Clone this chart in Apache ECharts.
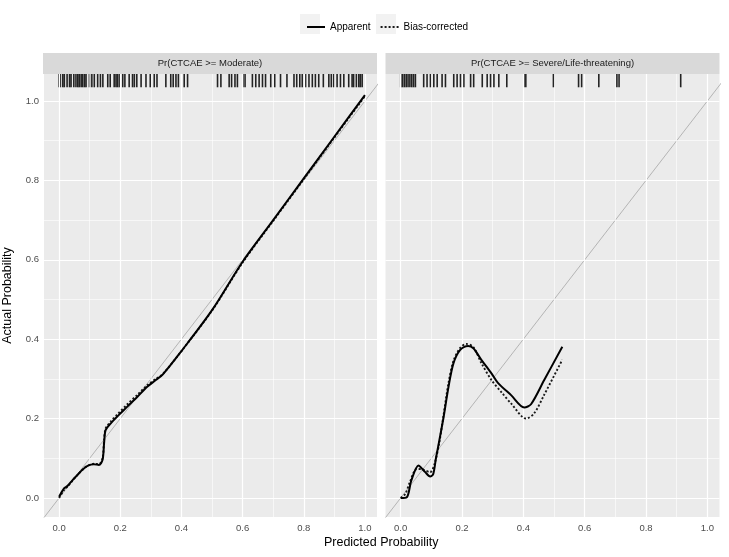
<!DOCTYPE html>
<html><head><meta charset="utf-8">
<script src="https://cdn.jsdelivr.net/npm/echarts@6/dist/echarts.min.js"></script>
<style>html,body{margin:0;padding:0;background:#fff}#c{width:729px;height:557px}</style>
</head><body><div id="c"></div>
<script>
// ---------- data ----------
const panelTitles = ['Pr(CTCAE >= Moderate)', 'Pr(CTCAE >= Severe/Life-threatening)'];
const seriesNames = ['Apparent', 'Bias-corrected'];
const majorTicks = [0, 0.2, 0.4, 0.6, 0.8, 1.0];
const minorTicks = [0.1, 0.3, 0.5, 0.7, 0.9];

// Panel 1: Pr(CTCAE >= Moderate)
const modX = [0, 0.016, 0.027, 0.044, 0.06, 0.076, 0.093, 0.114, 0.13, 0.142, 0.147, 0.152, 0.169, 0.19, 0.223, 0.256, 0.288, 0.316, 0.34, 0.4, 0.5, 0.6, 0.7, 0.8, 0.9, 1.0];
const modApparent = [0.003, 0.024, 0.03, 0.045, 0.058, 0.071, 0.081, 0.085, 0.083, 0.096, 0.138, 0.171, 0.188, 0.205, 0.23, 0.255, 0.28, 0.297, 0.312, 0.37, 0.473, 0.595, 0.70, 0.805, 0.91, 1.015];
const modBias = [0.0, 0.02, 0.028, 0.044, 0.058, 0.071, 0.081, 0.086, 0.085, 0.1, 0.145, 0.175, 0.193, 0.21, 0.236, 0.26, 0.284, 0.3, 0.313, 0.37, 0.472, 0.593, 0.698, 0.803, 0.908, 1.012];
const modRug = [0.0, 0.004, 0.012, 0.017, 0.026, 0.034, 0.039, 0.048, 0.055, 0.061, 0.066, 0.072, 0.077, 0.083, 0.088, 0.099, 0.107, 0.115, 0.126, 0.135, 0.143, 0.159, 0.167, 0.18, 0.186, 0.191, 0.197, 0.208, 0.215, 0.229, 0.24, 0.246, 0.254, 0.268, 0.284, 0.298, 0.311, 0.32, 0.349, 0.365, 0.373, 0.382, 0.39, 0.409, 0.42, 0.518, 0.529, 0.556, 0.564, 0.575, 0.583, 0.601, 0.608, 0.632, 0.643, 0.654, 0.665, 0.675, 0.692, 0.705, 0.724, 0.745, 0.768, 0.777, 0.787, 0.795, 0.806, 0.817, 0.828, 0.838, 0.849, 0.864, 0.882, 0.89, 0.898, 0.909, 0.92, 0.931, 0.947, 0.958, 0.963, 0.972, 0.98, 0.985, 0.991];

// Panel 2: Pr(CTCAE >= Severe/Life-threatening)
const sevAppX = [0, 0.02, 0.035, 0.058, 0.066, 0.08, 0.096, 0.106, 0.115, 0.126, 0.14, 0.156, 0.172, 0.194, 0.22, 0.237, 0.263, 0.296, 0.317, 0.36, 0.403, 0.425, 0.468, 0.527];
const sevApparent = [0.0, 0.002, 0.045, 0.082, 0.077, 0.065, 0.054, 0.06, 0.1, 0.145, 0.204, 0.28, 0.339, 0.373, 0.383, 0.377, 0.348, 0.314, 0.29, 0.259, 0.228, 0.236, 0.297, 0.381];
const sevBiasX = [0, 0.015, 0.03, 0.052, 0.07, 0.096, 0.11, 0.126, 0.14, 0.156, 0.172, 0.194, 0.215, 0.237, 0.263, 0.296, 0.33, 0.36, 0.409, 0.435, 0.468, 0.527];
const sevBias = [0.0, 0.01, 0.04, 0.073, 0.072, 0.065, 0.085, 0.14, 0.21, 0.29, 0.345, 0.378, 0.388, 0.38, 0.34, 0.297, 0.265, 0.238, 0.2, 0.213, 0.26, 0.348];
const sevRug = [0.0, 0.006, 0.012, 0.018, 0.024, 0.03, 0.036, 0.042, 0.048, 0.075, 0.086, 0.097, 0.108, 0.119, 0.135, 0.146, 0.173, 0.184, 0.195, 0.206, 0.228, 0.238, 0.266, 0.282, 0.293, 0.304, 0.32, 0.346, 0.402, 0.408, 0.498, 0.58, 0.59, 0.646, 0.705, 0.712, 0.913];

// ---------- layout ----------
const FONT = 'Liberation Sans, Arial, sans-serif';
const G = [{left: 43, top: 74, width: 334, height: 443}, {left: 385.5, top: 74, width: 334, height: 443}];
const X_MIN = -0.0495, X_MAX = 1.0395, Y_MIN = -0.048, Y_MAX = 1.068;
const STRIP_H = 21;
const RUG_FRAC = 0.03;

const zip = (xs, ys) => xs.map((x, i) => [x, ys[i]]);
const panels = [
  {app: zip(modX, modApparent), bias: zip(modX, modBias), rug: modRug},
  {app: zip(sevAppX, sevApparent), bias: zip(sevBiasX, sevBias), rug: sevRug}
];

const grid = G.map(g => ({left: g.left, top: g.top, width: g.width, height: g.height, show: true, backgroundColor: '#EBEBEB', borderWidth: 0, containLabel: false}));

const hiddenLine = {show: true, lineStyle: {color: 'rgba(0,0,0,0)', width: 0}};
const xAxis = G.map((g, i) => ({
  gridIndex: i, type: 'value', min: X_MIN, max: X_MAX,
  splitLine: {show: false}, axisLine: hiddenLine,
  axisTick: {show: true, length: 3, customValues: majorTicks, lineStyle: {color: '#333', width: 1}},
  axisLabel: {customValues: majorTicks, formatter: v => v.toFixed(1), color: '#4D4D4D', fontSize: 9.5, margin: 6, fontFamily: FONT}
}));
const yAxis = G.map((g, i) => ({
  gridIndex: i, type: 'value', min: Y_MIN, max: Y_MAX,
  splitLine: {show: false}, axisLine: hiddenLine,
  axisTick: {show: i === 0, length: 3, customValues: majorTicks, lineStyle: {color: '#333', width: 1}},
  axisLabel: {show: i === 0, customValues: majorTicks, formatter: v => v.toFixed(1), color: '#4D4D4D', fontSize: 9.5, margin: 5, fontFamily: FONT},
  name: i === 0 ? 'Actual Probability' : '', nameLocation: 'middle', nameGap: 30,
  nameTextStyle: {fontSize: 12.5, color: '#000', fontFamily: FONT}
}));

const series = [];
G.forEach((g, i) => {
  const major = {color: '#FFFFFF', width: 1.2, type: 'solid'};
  const minor = {color: '#FFFFFF', width: 0.6, type: 'solid'};
  const ml = [];
  majorTicks.forEach(v => { ml.push({xAxis: v, lineStyle: major}); ml.push({yAxis: v, lineStyle: major}); });
  minorTicks.forEach(v => { ml.push({xAxis: v, lineStyle: minor}); ml.push({yAxis: v, lineStyle: minor}); });
  series.push({
    type: 'line', xAxisIndex: i, yAxisIndex: i, data: [[X_MIN, Y_MIN]], symbol: 'none', silent: true, z: 1,
    lineStyle: {width: 0},
    markLine: {silent: true, symbol: ['none', 'none'], label: {show: false}, animation: false, data: ml}
  });
  // reference diagonal
  series.push({
    type: 'line', xAxisIndex: i, yAxisIndex: i, data: [[-0.2, -0.2], [1.2, 1.2]], symbol: 'none', silent: true, z: 3,
    clip: true, lineStyle: {color: '#A6A6A6', width: 0.8}
  });
  // rug
  const yr = Y_MAX - (Y_MAX - Y_MIN) * RUG_FRAC / 2;
  series.push({
    type: 'scatter', xAxisIndex: i, yAxisIndex: i, data: panels[i].rug.map(v => [v, yr]),
    symbol: 'rect', symbolSize: [1.6, g.height * RUG_FRAC], silent: true, z: 4,
    itemStyle: {color: '#000', opacity: 0.85}
  });
  series.push({
    name: seriesNames[1], type: 'line', xAxisIndex: i, yAxisIndex: i, data: panels[i].bias,
    symbol: 'none', smooth: 0.3, z: 5, lineStyle: {color: '#1A1A1A', width: 1.9, type: [2, 2]}, itemStyle: {color: '#1A1A1A'}
  });
  series.push({
    name: seriesNames[0], type: 'line', xAxisIndex: i, yAxisIndex: i, data: panels[i].app,
    symbol: 'none', smooth: 0.3, z: 6, lineStyle: {color: '#000', width: 2, type: 'solid'}, itemStyle: {color: '#000'}
  });
});

const graphic = [];
G.forEach((g, i) => {
  graphic.push({type: 'rect', left: g.left, top: g.top - STRIP_H, shape: {width: g.width, height: STRIP_H}, style: {fill: '#D9D9D9'}, silent: true});
  graphic.push({type: 'text', x: g.left + g.width / 2, y: g.top - STRIP_H / 2, style: {text: panelTitles[i], textAlign: 'center', textVerticalAlign: 'middle', fontSize: 9.5, fill: '#1A1A1A', fontFamily: FONT}, silent: true});
});
graphic.push({type: 'text', x: (G[0].left + G[1].left + G[1].width) / 2, y: 543, style: {text: 'Predicted Probability', textAlign: 'center', textVerticalAlign: 'middle', fontSize: 12.5, fill: '#000', fontFamily: FONT}, silent: true});
// legend key backgrounds
graphic.push({type: 'rect', left: 300, top: 14, shape: {width: 20, height: 20}, style: {fill: '#F2F2F2'}, silent: true, z: -1});
graphic.push({type: 'rect', left: 376, top: 14, shape: {width: 20, height: 20}, style: {fill: '#F2F2F2'}, silent: true, z: -1});

const chart = echarts.init(document.getElementById('c'), null, {renderer: 'canvas'});
chart.setOption({
  animation: false,
  backgroundColor: '#FFFFFF',
  textStyle: {fontFamily: FONT},
  legend: {data: seriesNames, left: 301, top: 17, itemWidth: 18, itemHeight: 12, itemGap: 9,
    itemStyle: {opacity: 0},
    textStyle: {fontSize: 10, color: '#000', fontFamily: FONT}},
  grid, xAxis, yAxis, series, graphic
});
</script>
</body></html>
